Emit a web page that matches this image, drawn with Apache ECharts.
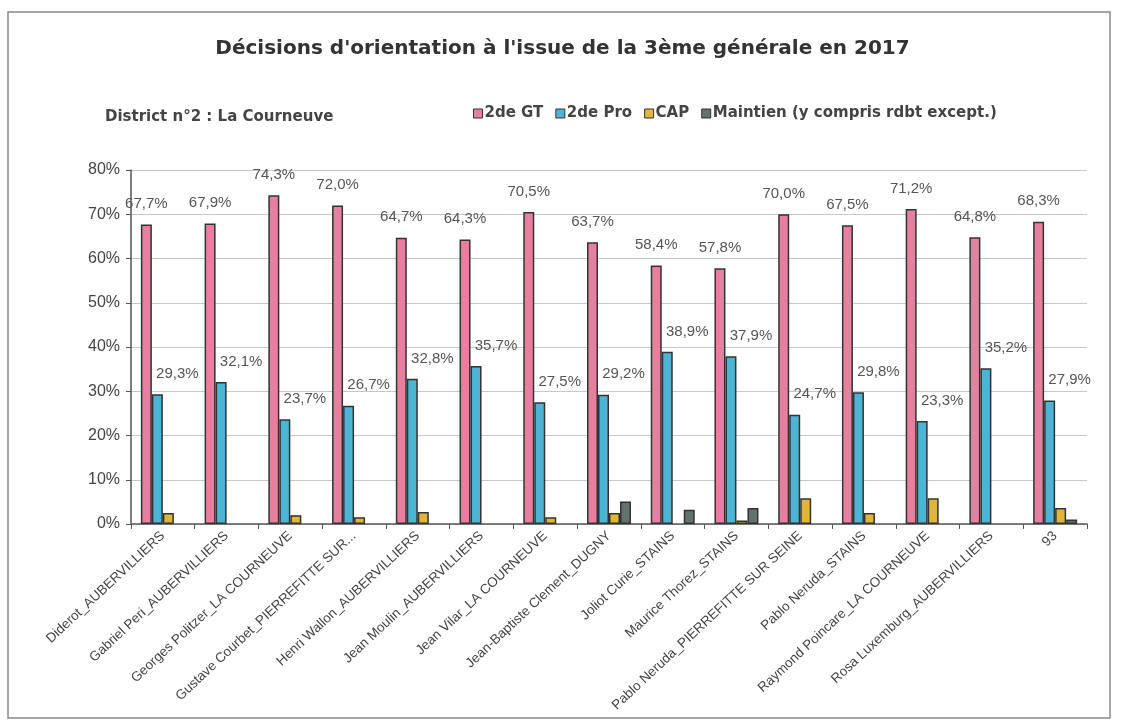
<!DOCTYPE html>
<html>
<head>
<meta charset="utf-8">
<script src="https://cdn.jsdelivr.net/npm/echarts@6/dist/echarts.min.js"></script>
<style>html,body{margin:0;padding:0;background:#fff}#c{width:1125px;height:724px}</style>
</head>
<body>
<div id="c"></div>
<script>
const categories = [
  "Diderot_AUBERVILLIERS",
  "Gabriel Peri_AUBERVILLIERS",
  "Georges Politzer_LA COURNEUVE",
  "Gustave Courbet_PIERREFITTE SUR...",
  "Henri Wallon_AUBERVILLIERS",
  "Jean Moulin_AUBERVILLIERS",
  "Jean Vilar_LA COURNEUVE",
  "Jean-Baptiste Clement_DUGNY",
  "Joliot Curie_STAINS",
  "Maurice Thorez_STAINS",
  "Pablo Neruda_PIERREFITTE SUR SEINE",
  "Pablo Neruda_STAINS",
  "Raymond Poincare_LA COURNEUVE",
  "Rosa Luxemburg_AUBERVILLIERS",
  "93"
];
const seriesNames = ["2de GT", "2de Pro", "CAP", "Maintien (y compris rdbt except.)"];
const gt      = [67.7, 67.9, 74.3, 72.0, 64.7, 64.3, 70.5, 63.7, 58.4, 57.8, 70.0, 67.5, 71.2, 64.8, 68.3];
const pro     = [29.3, 32.1, 23.7, 26.7, 32.8, 35.7, 27.5, 29.2, 38.9, 37.9, 24.7, 29.8, 23.3, 35.2, 27.9];
const cap     = [2.5, 0, 2.0, 1.5, 2.7, 0, 1.5, 2.5, 0, 0.8, 5.8, 2.5, 5.8, 0, 3.6];
const maintien= [0, 0, 0, 0, 0, 0, 0, 5.1, 3.2, 3.6, 0, 0, 0, 0, 1.0];
const yTicks = [0, 10, 20, 30, 40, 50, 60, 70, 80];

const colors = ["#E6809E", "#4DB4D3", "#E0B63A", "#657070"];
const fontFam = "'Liberation Sans', Arial, sans-serif";
const wideFam = "'DejaVu Sans', sans-serif";

function fmt(v){ return v.toFixed(1).replace('.', ',') + '%'; }

const chart = echarts.init(document.getElementById('c'));
const lblBase = {
  show: true, position: 'top', distance: 13,
  color: '#555', fontFamily: fontFam, fontSize: 15,
  formatter: p => fmt(p.value)
};
const dataArr = [gt, pro, cap, maintien];
chart.setOption({
  animation: false,
  color: colors,
  graphic: [{
    type: 'rect', shape: {x: 8, y: 12, width: 1102, height: 706},
    style: {fill: 'none', stroke: '#8a8a8a', lineWidth: 1.5}, silent: true, z: -1
  }],
  title: [{
    text: "Décisions d'orientation à l'issue de la 3ème générale en 2017",
    left: 'center', top: 34,
    textStyle: {fontFamily: wideFam, fontSize: 20, fontWeight: 'bold', color: '#333'}
  }, {
    text: "District n°2 : La Courneuve",
    left: 100, top: 105,
    textStyle: {fontFamily: wideFam, fontSize: 15, fontWeight: 'bold', color: '#444'}
  }],
  legend: {
    left: 468, top: 101,
    itemWidth: 9, itemHeight: 9, itemGap: 12,
    icon: 'rect',
    textStyle: {fontFamily: wideFam, fontSize: 15, fontWeight: 'bold', color: '#444', padding: [0,0,0,-3]},
    data: seriesNames.map((n, i) => ({name: n, itemStyle: {borderColor: '#333', borderWidth: 1}}))
  },
  grid: {left: 131, right: 38, top: 170, bottom: 200},
  xAxis: {
    type: 'category', data: categories,
    axisLine: {lineStyle: {color: '#555', width: 1.5}},
    axisTick: {show: true, alignWithLabel: false, length: 5, lineStyle: {color: '#555'}},
    axisLabel: {
      interval: 0, rotate: 43, margin: 10,
      fontFamily: fontFam, fontSize: 13.5, color: '#444'
    }
  },
  yAxis: {
    type: 'value', min: 0, max: 80, interval: 10,
    axisLine: {show: true, lineStyle: {color: '#555', width: 1.5}},
    axisTick: {show: true, length: 5, lineStyle: {color: '#555'}},
    axisLabel: {
      fontFamily: fontFam, fontSize: 16, color: '#444', margin: 11,
      formatter: v => yTicks.includes(v) ? v + '%' : ''
    },
    splitLine: {lineStyle: {color: '#c8c8c8', width: 1}}
  },
  series: seriesNames.map((n, i) => ({
    name: n, type: 'bar',
    data: dataArr[i].map(v => v === 0 ? '-' : v),
    barWidth: 11, barGap: '0%',
    itemStyle: {borderColor: '#333', borderWidth: 1.5},
    label: i === 0 ? lblBase : (i === 1 ? Object.assign({}, lblBase, {offset: [20, 0]}) : {show: false})
  }))
});
</script>
</body>
</html>
